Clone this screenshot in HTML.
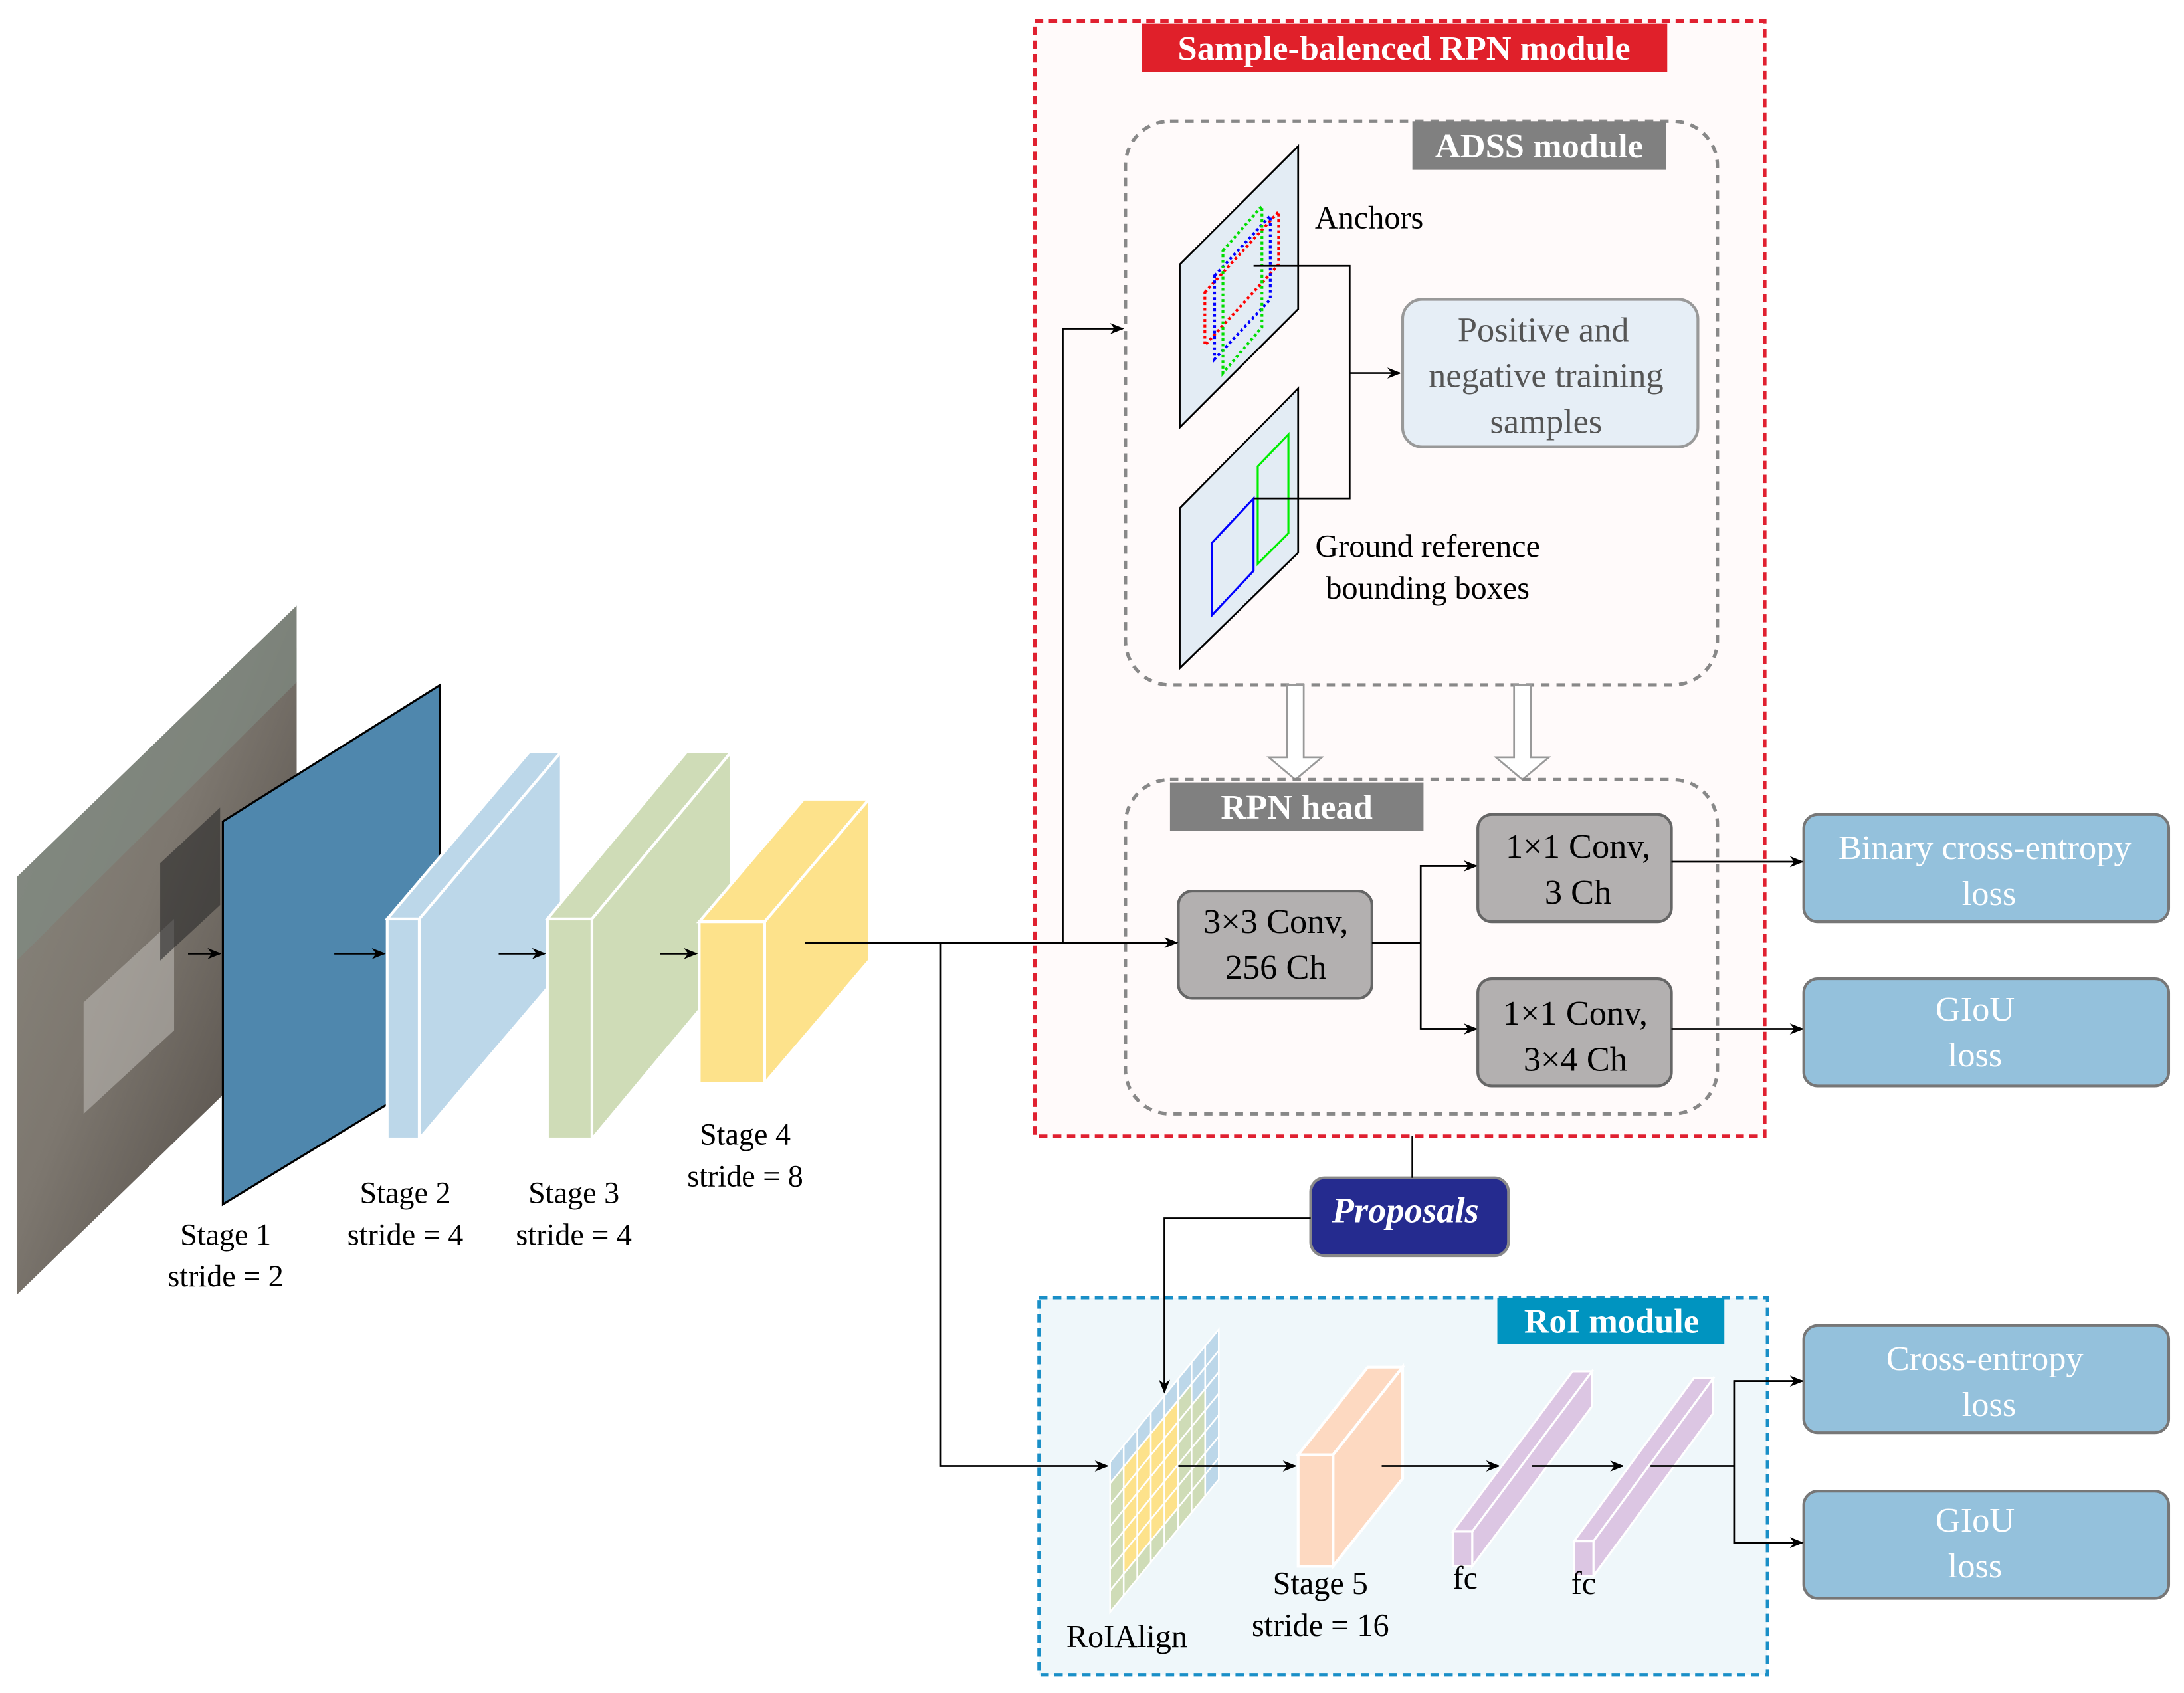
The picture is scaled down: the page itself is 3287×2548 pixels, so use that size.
<!DOCTYPE html>
<html><head><meta charset="utf-8"><style>
html,body{margin:0;padding:0;background:#fff;}
svg{display:block;}
</style></head><body>
<svg width="3287" height="2548" viewBox="0 0 1568 1216" preserveAspectRatio="none" xmlns="http://www.w3.org/2000/svg" font-family="'Liberation Serif', serif">
<defs>
<marker id="ar" markerWidth="10" markerHeight="8" refX="9" refY="4" orient="auto" markerUnits="userSpaceOnUse"><path d="M0,0 L10,4 L0,8 L3,4 z" fill="#000"/></marker>
<linearGradient id="ph" x1="0" y1="0" x2="1" y2="1"><stop offset="0" stop-color="#8c8a80"/><stop offset="0.45" stop-color="#7d776f"/><stop offset="0.75" stop-color="#5e5852"/><stop offset="1" stop-color="#46413f"/></linearGradient>
</defs>
<!-- photo -->
<polygon points="12,630 213,435 213,735 12,930" fill="url(#ph)"/>
<polygon points="12,630 213,435 213,490 12,690" fill="#7f8a82" opacity="0.7"/>
<polygon points="60,720 125,660 125,740 60,800" fill="#b9b6b0" opacity="0.6"/>
<polygon points="115,620 158,580 158,650 115,690" fill="#2a2a2a" opacity="0.6"/>
<!-- stage 1 -->
<polygon points="160,590 316,492 316,770 160,865" fill="#4f87ad" stroke="#000" stroke-width="1.5"/>
<!-- stage 2 -->
<polygon points="278,660 380,540 403,540 301,660" fill="#bcd7e9" stroke="#fff" stroke-width="2"/>
<polygon points="301,660 403,540 403,698 301,818" fill="#bcd7e9" stroke="#fff" stroke-width="2"/>
<rect x="278" y="660" width="23" height="158" fill="#bcd7e9" stroke="#fff" stroke-width="2"/>
<!-- stage 3 -->
<polygon points="393,660 493,540 525,540 425,660" fill="#cfdcb7" stroke="#fff" stroke-width="2"/>
<polygon points="425,660 525,540 525,698 425,818" fill="#cfdcb7" stroke="#fff" stroke-width="2"/>
<rect x="393" y="660" width="32" height="158" fill="#cfdcb7" stroke="#fff" stroke-width="2"/>
<!-- stage 4 -->
<polygon points="502,662 577,574 624,574 549,662" fill="#fde28b" stroke="#fff" stroke-width="2"/>
<polygon points="549,662 624,574 624,690 549,778" fill="#fde28b" stroke="#fff" stroke-width="2"/>
<rect x="502" y="662" width="47" height="116" fill="#fde28b" stroke="#fff" stroke-width="2"/>
<g stroke="#000" stroke-width="1.3" fill="none">
<line x1="135" y1="685" x2="158" y2="685" marker-end="url(#ar)"/>
<line x1="240" y1="685" x2="276" y2="685" marker-end="url(#ar)"/>
<line x1="358" y1="685" x2="391" y2="685" marker-end="url(#ar)"/>
<line x1="474" y1="685" x2="500" y2="685" marker-end="url(#ar)"/>
</g>
<g font-size="22" text-anchor="middle" fill="#000">
<text x="162" y="894">Stage 1</text><text x="162" y="924">stride = 2</text>
<text x="291" y="864">Stage 2</text><text x="291" y="894">stride = 4</text>
<text x="412" y="864">Stage 3</text><text x="412" y="894">stride = 4</text>
<text x="535" y="822">Stage 4</text><text x="535" y="852">stride = 8</text>
</g>
<!-- red module -->
<rect x="743" y="15" width="524" height="801" fill="#fffafa" stroke="#e02030" stroke-width="2.5" stroke-dasharray="6,4"/>
<rect x="820" y="17" width="377" height="35" fill="#e0202a"/>
<text x="1008" y="43" font-size="25" font-weight="bold" fill="#fff" text-anchor="middle">Sample-balenced RPN module</text>
<!-- RoI module background -->
<rect x="746" y="932" width="523" height="271" fill="#eff7fa" stroke="#1a8fc7" stroke-width="2.5" stroke-dasharray="6,4"/>
<rect x="1075" y="932" width="163" height="33" fill="#0094c0"/>
<text x="1157" y="957" font-size="25" font-weight="bold" fill="#fff" text-anchor="middle">RoI module</text>
<!-- ADSS -->
<rect x="808" y="87" width="425" height="405" rx="32" fill="none" stroke="#888" stroke-width="2.5" stroke-dasharray="6,5"/>
<rect x="1014" y="87" width="182" height="35" fill="#808080"/>
<text x="1105" y="113" font-size="25" font-weight="bold" fill="#fff" text-anchor="middle">ADSS module</text>
<polygon points="847,190 932,105 932,222 847,307" fill="#e3ecf4" stroke="#000" stroke-width="1.3"/>
<polygon points="847,365 932,279 932,397 847,480" fill="#e3ecf4" stroke="#000" stroke-width="1.3"/>
<polygon points="865,210 918,152 918,190 865,248" fill="none" stroke="#f00" stroke-width="2" stroke-dasharray="2,2"/>
<polygon points="872,198 912,155 912,215 872,258" fill="none" stroke="#00f" stroke-width="2" stroke-dasharray="2,2"/>
<polygon points="878,180 906,148 906,235 878,268" fill="none" stroke="#0d0" stroke-width="2" stroke-dasharray="2,2"/>
<polygon points="870,390 900,358 900,410 870,442" fill="none" stroke="#00f" stroke-width="1.5"/>
<polygon points="903,335 925,312 925,383 903,405" fill="none" stroke="#0e0" stroke-width="1.5"/>
<text x="944" y="164" font-size="23">Anchors</text>
<polyline points="900,191 969,191 969,358 900,358" fill="none" stroke="#000" stroke-width="1.3"/>
<line x1="969" y1="268" x2="1005" y2="268" stroke="#000" stroke-width="1.3" marker-end="url(#ar)"/>
<rect x="1007" y="215" width="212" height="106" rx="14" fill="#e6eef6" stroke="#999" stroke-width="2"/>
<g font-size="25" fill="#555" text-anchor="middle">
<text x="1108" y="245">Positive and</text><text x="1110" y="278">negative training</text><text x="1110" y="311">samples</text>
</g>
<g font-size="23" text-anchor="middle">
<text x="1025" y="400">Ground reference</text><text x="1025" y="430">bounding boxes</text>
</g>
<!-- hollow arrows -->
<g fill="#fff" stroke="#999" stroke-width="1.3">
<polygon points="924,492 936,492 936,544 949,544 930,560 911,544 924,544"/>
<polygon points="1087,492 1099,492 1099,544 1112,544 1093,560 1074,544 1087,544"/>
</g>
<!-- RPN head -->
<rect x="808" y="560" width="425" height="240" rx="32" fill="none" stroke="#888" stroke-width="2.5" stroke-dasharray="6,5"/>
<rect x="840" y="562" width="182" height="35" fill="#808080"/>
<text x="931" y="588" font-size="25" font-weight="bold" fill="#fff" text-anchor="middle">RPN head</text>
<g fill="#b3b0b0" stroke="#666" stroke-width="2">
<rect x="846" y="640" width="139" height="77" rx="10"/>
<rect x="1061" y="585" width="139" height="77" rx="10"/>
<rect x="1061" y="703" width="139" height="77" rx="10"/>
</g>
<g font-size="25" text-anchor="middle" fill="#000">
<text x="916" y="670">3×3 Conv,</text><text x="916" y="703">256 Ch</text>
<text x="1133" y="616">1×1 Conv,</text><text x="1133" y="649">3 Ch</text>
<text x="1131" y="736">1×1 Conv,</text><text x="1131" y="769">3×4 Ch</text>
</g>
<!-- loss boxes -->
<g fill="#94c1dc" stroke="#777" stroke-width="2">
<rect x="1295" y="585" width="262" height="77" rx="10"/>
<rect x="1295" y="703" width="262" height="77" rx="10"/>
<rect x="1295" y="952" width="262" height="77" rx="10"/>
<rect x="1295" y="1071" width="262" height="77" rx="10"/>
</g>
<g font-size="25" text-anchor="middle" fill="#fff">
<text x="1425" y="617">Binary cross-entropy</text><text x="1428" y="650">loss</text>
<text x="1418" y="733">GIoU</text><text x="1418" y="766">loss</text>
<text x="1425" y="984">Cross-entropy</text><text x="1428" y="1017">loss</text>
<text x="1418" y="1100">GIoU</text><text x="1418" y="1133">loss</text>
</g>
<!-- proposals -->
<rect x="941" y="846" width="142" height="56" rx="10" fill="#252b8f" stroke="#888" stroke-width="2"/>
<text x="1009" y="878" font-size="26" font-weight="bold" font-style="italic" fill="#fff" text-anchor="middle">Proposals</text>
<g id="grid" stroke="#fff" stroke-width="1.2"></g>
<!-- stage 5 -->
<polygon points="932,1045 982,982 1007,982 957,1045" fill="#fdd9c1" stroke="#fff" stroke-width="2"/>
<polygon points="957,1045 1007,982 1007,1062 957,1125" fill="#fdd9c1" stroke="#fff" stroke-width="2"/>
<rect x="932" y="1045" width="25" height="80" fill="#fdd9c1" stroke="#fff" stroke-width="2"/>
<!-- fc1 -->
<polygon points="1043,1100 1129,985 1143,985 1057,1100" fill="#dcc6e3" stroke="#fff" stroke-width="1.5"/>
<polygon points="1057,1100 1143,985 1143,1010 1057,1125" fill="#dcc6e3" stroke="#fff" stroke-width="1.5"/>
<rect x="1043" y="1100" width="14" height="25" fill="#dcc6e3" stroke="#fff" stroke-width="1.5"/>
<!-- fc2 -->
<polygon points="1130,1107 1216,990 1230,990 1144,1107" fill="#dcc6e3" stroke="#fff" stroke-width="1.5"/>
<polygon points="1144,1107 1230,990 1230,1015 1144,1132" fill="#dcc6e3" stroke="#fff" stroke-width="1.5"/>
<rect x="1130" y="1107" width="14" height="25" fill="#dcc6e3" stroke="#fff" stroke-width="1.5"/>
<!-- connectors -->
<g stroke="#000" stroke-width="1.3" fill="none">
<line x1="578" y1="677" x2="845" y2="677" marker-end="url(#ar)"/>
<polyline points="763,677 763,236 806,236" marker-end="url(#ar)"/>
<polyline points="675,677 675,1053 795,1053" marker-end="url(#ar)"/>
<line x1="985" y1="677" x2="1020" y2="677"/>
<polyline points="1059,622 1020,622 1020,739 1059,739"/>
<line x1="1020" y1="622" x2="1060" y2="622" marker-end="url(#ar)"/>
<line x1="1020" y1="739" x2="1060" y2="739" marker-end="url(#ar)"/>
<line x1="1200" y1="619" x2="1294" y2="619" marker-end="url(#ar)"/>
<line x1="1200" y1="739" x2="1294" y2="739" marker-end="url(#ar)"/>
<line x1="1014" y1="816" x2="1014" y2="846"/>
<polyline points="941,875 836,875 836,1000" marker-end="url(#ar)"/>
<line x1="846" y1="1053" x2="930" y2="1053" marker-end="url(#ar)"/>
<line x1="992" y1="1053" x2="1076" y2="1053" marker-end="url(#ar)"/>
<line x1="1100" y1="1053" x2="1165" y2="1053" marker-end="url(#ar)"/>
<line x1="1185" y1="1053" x2="1245" y2="1053"/>
<polyline points="1294,992 1245,992 1245,1108 1294,1108"/>
<line x1="1245" y1="992" x2="1294" y2="992" marker-end="url(#ar)"/>
<line x1="1245" y1="1108" x2="1294" y2="1108" marker-end="url(#ar)"/>
</g>
<g font-size="23" text-anchor="middle">
<text x="948" y="1145">Stage 5</text><text x="948" y="1175">stride = 16</text>
<text x="1052" y="1141">fc</text><text x="1137" y="1145">fc</text>
<text x="809" y="1183">RoIAlign</text>
</g>
<script>
(function(){
var g=document.getElementById('grid');var ns='http://www.w3.org/2000/svg';
var ox=797,oy=1050,cx=9.75,cy=-11.9,ry=15.4;
for(var c=0;c<8;c++)for(var r=0;r<7;r++){
 var col='#cfdcb7';
 if(c>=7||r==0) col='#bcd7e9';
 else if(c>=1&&c<=4&&r>=1&&r<=5) col='#fde28b';
 else if(c==6&&r<2) col='#bcd7e9';
 var x0=ox+c*cx,y0=oy+c*cy+r*ry;
 var p=document.createElementNS(ns,'polygon');
 p.setAttribute('points',x0+','+y0+' '+(x0+cx)+','+(y0+cy)+' '+(x0+cx)+','+(y0+cy+ry)+' '+x0+','+(y0+ry));
 p.setAttribute('fill',col);g.appendChild(p);
}
})();
</script>
</svg>
</body></html>
